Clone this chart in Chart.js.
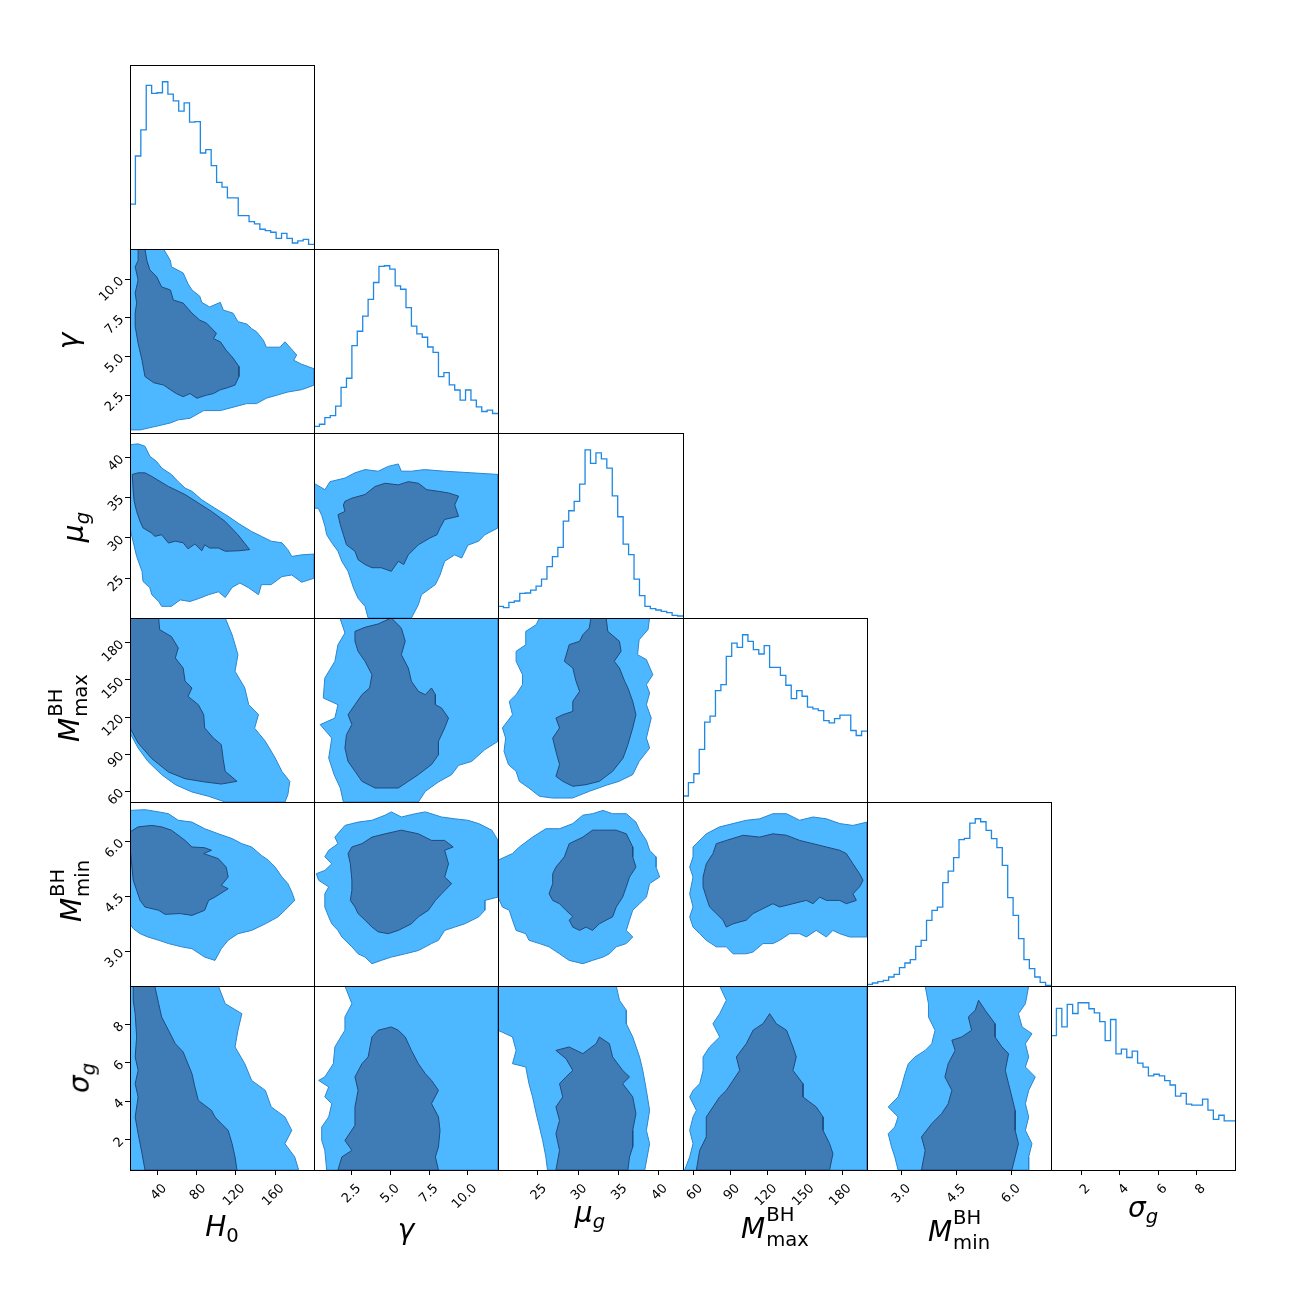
<!DOCTYPE html>
<html>
<head>
<meta charset="utf-8">
<script src="https://cdn.jsdelivr.net/npm/chart.js@4.4.1/dist/chart.umd.min.js"></script>
<style>
  body { margin: 0; background: #fff; }
  #wrap { position: relative; width: 1300px; height: 1300px; overflow: hidden; }
  #wrap canvas { position: absolute; }
  .lab { position: absolute; font-family: 'DejaVu Sans', sans-serif; font-size: 28px; line-height: 1; white-space: nowrap; transform: translate(-50%, -50%); color: #000; }
  .lab.rot { transform: translate(-50%, -50%) rotate(-90deg); }
  .lab sub { font-size: 0.7em; vertical-align: -0.3em; }
  .ss { display: inline-flex; flex-direction: column; font-size: 0.7em; line-height: 1.3; vertical-align: 17px; margin-left: 1px; }
</style>
</head>
<body>
<div id="wrap"></div>
<script>
// 1. DATOS: rangos, ticks, histogramas
const paramRanges = [[11.7, 199.7], [0.05, 11.95], [20.05, 43.05], [51.4, 200], [2.05, 7.08], [0.43, 10.0]];
const tickLabels = [
  ['40', '80', '120', '160'],
  ['2.5', '5.0', '7.5', '10.0'],
  ['25', '30', '35', '40'],
  ['60', '90', '120', '150', '180'],
  ['3.0', '4.5', '6.0'],
  ['2', '4', '6', '8']
];

const histH0 = [134, 278, 356, 489, 465, 467, 500, 463, 443, 412, 437, 379, 381, 287, 297, 249, 199, 185, 153, 153, 100, 100, 82, 75, 59, 55, 50, 32, 47, 32, 18, 24, 29, 14];
const histGamma = [20, 26, 46, 52, 80, 136, 163, 260, 303, 348, 398, 448, 496, 498, 488, 438, 428, 373, 318, 295, 285, 256, 240, 168, 180, 143, 128, 98, 128, 98, 78, 64, 68, 58];
const histMu = [35, 31, 47, 51, 74, 75, 84, 96, 117, 154, 184, 212, 291, 322, 350, 402, 505, 464, 496, 478, 450, 367, 304, 222, 190, 117, 67, 35, 28, 24, 20, 16, 8, 6];
const histMmax = [18, 58, 85, 158, 240, 258, 335, 353, 438, 478, 465, 503, 483, 458, 445, 470, 405, 405, 381, 351, 311, 335, 318, 285, 280, 275, 245, 238, 251, 261, 261, 215, 200, 213];
const histMmin = [5, 9, 13, 17, 27, 35, 55, 69, 79, 119, 137, 197, 227, 237, 310, 345, 385, 439, 443, 489, 502, 493, 467, 442, 415, 362, 265, 212, 142, 79, 52, 27, 11, 2];
const histSigma = [400, 481, 426, 493, 466, 498, 498, 480, 468, 442, 385, 448, 346, 360, 335, 354, 318, 306, 280, 285, 280, 266, 253, 220, 228, 196, 193, 193, 211, 178, 151, 163, 146, 146];
const hists = [histH0, histGamma, histMu, histMmax, histMmin, histSigma];

// 2. CONTORNOS (vértices en unidades de los parámetros)
const h0GammaOuter = [[11.7,11.95],[46,11.95],[53,11.2],[54,10.8],[66,10.4],[71,9.7],[75,9.3],[83,8.9],[85,8.5],[93,8.2],[104,8.5],[107,8.0],[117,7.8],[122,7.25],[131,7.1],[136,6.8],[141,6.6],[148,6.05],[151,5.6],[165,5.6],[170,5.95],[175,5.6],[182,5.1],[179,4.75],[187,4.5],[200,4.2],[200,3.15],[187,2.85],[173,2.7],[162,2.5],[151,2.3],[141,1.95],[131,1.95],[119,1.75],[104,1.5],[87,1.5],[73,1.0],[61,0.9],[53,0.7],[36,0.45],[22,0.25],[11.7,0.25]];
const h0GammaInner = [[20,11.95],[27,11.95],[29,11.2],[32,10.6],[39,10.15],[44,9.5],[53,9.3],[56,8.65],[66,8.45],[75,7.8],[83,7.35],[90,7.15],[100,6.5],[97,6.15],[104,5.95],[110,5.4],[117,4.9],[123,4.35],[123,3.7],[119,3.15],[110,2.95],[104,2.85],[97,2.6],[90,2.5],[80,2.3],[73,2.6],[66,2.4],[59,2.6],[53,2.85],[46,3.15],[36,3.3],[27,3.7],[24,4.75],[20,5.85],[17,6.95],[17,7.8],[18.5,8.45],[17,9.1],[20,9.95],[17,10.8],[20,11.2]];

const h0MuOuter = [[11.7,41.6],[20,41.7],[27,41.4],[32,40.15],[39,39.5],[44,38.7],[54,37.9],[61,37.0],[68,36.2],[75,35.8],[85,34.75],[98.5,33.7],[112,32.7],[122,31.85],[136,30.8],[146,30.2],[156,29.6],[167,29.4],[173,28.55],[177,27.7],[187,27.9],[200,28.0],[200,25.0],[187,24.5],[177,25.4],[167,25.2],[156,24.2],[146,24.2],[143,22.95],[133,23.8],[124,24.4],[116,23.85],[109,22.6],[102,23.3],[92,22.95],[81.5,22.45],[73,22.1],[63,22.3],[54,21.5],[44,21.5],[41,22.1],[34,22.95],[32,23.8],[25,24.6],[24,25.85],[18.5,27.7],[14,30.0],[11.7,31.2]];
const h0MuInner = [[14,37.9],[20,38.1],[27,38.1],[34,37.65],[51,36.4],[68,35.4],[81.5,34.35],[95,33.3],[109,32.05],[122,30.4],[134,28.55],[122,28.4],[109,28.35],[102,28.75],[93,28.75],[88,29.15],[85,28.4],[78,29.25],[71,28.65],[66,29.4],[58,29.6],[51,29.37],[44,30.4],[37,30.2],[34,30.6],[25,31.25],[22,32.05],[18.5,33.3],[16,34.55],[15,35.8]];

const gammaMuOuter = [[0.05,36.8],[0.76,36.0],[1.08,37.0],[2.06,37.45],[2.7,38.1],[3.35,38.5],[4.2,38.3],[4.85,38.9],[5.5,39.2],[5.7,38.3],[6.35,38.3],[7.2,38.5],[8.5,38.3],[10.25,38.1],[11.95,37.9],[11.95,31.25],[11.1,30.4],[10.7,29.6],[10.0,29.1],[9.6,27.5],[9.15,27.9],[8.5,27.1],[8.2,25.4],[7.9,24.2],[7.0,22.95],[6.8,21.7],[6.35,20.05],[3.55,20.05],[3.35,21.5],[2.9,22.5],[2.6,23.8],[2.25,25.85],[1.85,27.1],[1.6,28.35],[1.2,29.4],[0.87,30.4],[0.76,31.45],[0.55,32.8],[0.33,33.7],[0.05,33.7]];
const gammaMuInner = [[2.05,34.55],[2.5,34.95],[3.35,35.4],[4.0,36.4],[4.65,36.8],[5.5,36.6],[6.15,37.0],[6.8,36.8],[7.35,36.0],[8.1,35.8],[8.75,35.6],[9.4,35.2],[9.15,34.1],[9.4,32.7],[8.5,32.3],[8.2,31.25],[8.0,30.4],[7.55,30.0],[6.8,29.15],[6.15,27.9],[5.85,26.7],[5.5,27.1],[5.05,25.85],[4.4,26.3],[3.8,26.3],[3.35,26.7],[2.9,27.3],[2.7,28.35],[2.15,29.15],[1.95,30.4],[1.75,31.65],[1.6,32.9],[2.05,33.3],[1.95,34.1]];

const h0MmaxOuter = [[11.7,200],[109,200],[116,186.5],[122,170.4],[119,157],[129,143.5],[133,130],[143,122],[139,111],[150,100.4],[160,87],[167,76],[175,68],[173,57.3],[170,51.4],[109,51.4],[92,56],[75,59.5],[58,65.4],[44,73.5],[30,84.2],[20,95],[11.7,107.1]];
const h0MmaxInner = [[11.7,200],[41,200],[42,190.6],[54,185],[61,175.8],[58,167.7],[66,159.6],[68,149],[75,143.5],[71,136.7],[81.5,130],[87,122],[88,111.2],[97,103],[105,97.7],[107,85.6],[109,76.2],[121,68.1],[105,65.9],[88,67.6],[68,70.2],[51,75.6],[34,86.4],[20,99],[11.7,111.2]];

const gammaMmaxOuter = [[1.73,200],[11.95,200],[11.95,100.4],[11.1,93.7],[10.25,84.2],[9.4,81],[8.95,73.5],[8.1,67.6],[7.25,60],[6.8,51.4],[1.95,51.4],[1.75,62.7],[1.35,73.5],[1.0,86.9],[1.2,103],[0.45,113.9],[1.4,119.2],[1.6,130],[0.65,135.4],[0.75,151.5],[1.4,165],[1.6,178.4],[2.05,187.9]];
const gammaMmaxInner = [[2.7,189.2],[3.35,192.5],[4.2,195.2],[5.05,200],[5.7,191.9],[5.95,181.2],[5.7,170.4],[6.15,159.6],[6.35,148.9],[6.8,140.8],[7.25,138.1],[7.65,143.5],[7.9,138.1],[7.9,130],[8.3,127.3],[8.75,119.2],[8.5,111.2],[8.1,100.4],[8.1,89.6],[7.65,81.6],[6.8,73.5],[6.15,68.1],[5.5,62.7],[4.0,62.7],[3.15,68.1],[2.7,76.2],[2.25,84.2],[2.05,95],[2.15,105.8],[2.5,113.9],[2.25,121.9],[2.7,130],[3.15,138.1],[3.65,143.5],[3.8,154.2],[3.35,165],[2.9,173.1],[2.7,181.2]];

const muMmaxOuter = [[25.2,200],[38.9,200],[38.7,190.6],[37.6,182.5],[37.4,170.4],[38.5,166.4],[39.3,154.2],[38.5,146.2],[38.9,139.4],[38.5,130],[39.1,119.2],[38.5,103],[38.9,95],[37.6,84.2],[36.8,73.5],[35.1,68.1],[33.5,64.9],[31.4,60],[29.3,54.6],[26.8,54.6],[25.2,56],[23.9,62.7],[22.7,68.1],[22.3,76.2],[21.35,81.6],[20.8,92.3],[21.0,103],[20.6,111.2],[21.85,121.9],[21.45,132.7],[22.3,138.1],[23.1,146.2],[23.1,154.2],[22.3,165],[22.3,173.1],[23.5,178.4],[23.5,189.2],[24.8,194.6]];
const muMmaxInner = [[31.6,200],[33.5,200],[33.7,189.2],[35.15,181.2],[35.35,173.1],[34.5,165],[35.15,159.6],[35.8,148.9],[36.2,143.5],[36.8,132.7],[37.2,121.9],[36.8,111.2],[36.2,97.7],[35.6,86.9],[34.3,76.2],[32.65,68.1],[31.0,65.4],[29.35,64.1],[28.1,68.1],[27.25,72.1],[27.7,81.6],[27.25,92.3],[26.85,103],[27.7,111.2],[27.25,119.2],[28.1,121.9],[29.35,124.6],[29.35,132.7],[30.2,140.8],[29.75,148.9],[29.35,159.6],[28.3,165],[28.9,178.4],[30.2,181.2],[30.6,186.5],[31.4,191.9]];

const h0MminOuter = [[11.7,6.85],[27,6.87],[41,6.81],[51,6.76],[61,6.58],[75,6.53],[88,6.35],[102,6.21],[116,6.08],[126,5.94],[136,5.85],[146,5.62],[153,5.49],[160,5.3],[167,5.03],[173,4.85],[177,4.62],[180,4.39],[170,4.12],[163,3.94],[150,3.75],[136,3.57],[122,3.48],[112,3.3],[105,3.07],[98.5,2.75],[88,2.84],[75,3.07],[64.5,3.12],[51,3.21],[41,3.3],[30,3.39],[22,3.48],[15,3.62],[11.7,3.75]];
const h0MminInner = [[11.7,6.26],[20,6.4],[34,6.44],[44,6.4],[54,6.31],[68,6.03],[75,5.85],[88,5.83],[95,5.76],[87,5.67],[102,5.53],[110,5.3],[112,5.03],[105,4.8],[112,4.71],[98.5,4.48],[92,4.39],[88,4.12],[75,3.98],[63,4.03],[47.5,4.01],[41,4.12],[27,4.21],[22,4.39],[18.5,4.67],[15,4.94],[13.4,5.39],[11.7,5.85]];

const gammaMminOuter = [[1.4,6.12],[2.05,6.44],[2.9,6.53],[3.8,6.58],[4.65,6.72],[5.05,6.81],[5.7,6.67],[6.6,6.76],[7.25,6.81],[8.3,6.67],[9.15,6.62],[10.0,6.58],[10.7,6.49],[11.55,6.31],[11.95,6.03],[11.95,4.48],[11.1,4.39],[11.1,4.12],[10.7,3.94],[9.8,3.75],[9.15,3.66],[8.5,3.57],[8.1,3.3],[7.65,3.21],[6.8,3.02],[5.95,2.93],[5.05,2.84],[4.4,2.75],[3.8,2.66],[3.35,2.84],[2.9,2.93],[2.5,3.12],[1.85,3.39],[1.6,3.57],[1.2,3.75],[1.0,3.94],[0.75,4.21],[0.75,4.57],[1.0,4.76],[0.35,4.94],[0.2,5.12],[0.75,5.21],[1.2,5.39],[0.75,5.58],[1.0,5.76],[1.6,5.94]];
const gammaMminInner = [[2.5,5.85],[3.15,5.94],[3.8,6.12],[4.65,6.21],[5.7,6.31],[6.8,6.21],[7.65,6.03],[8.5,6.03],[9.05,5.85],[8.5,5.76],[8.75,5.39],[8.5,5.03],[8.95,4.85],[8.3,4.57],[7.9,4.39],[7.45,4.12],[6.8,3.94],[6.35,3.75],[5.5,3.57],[4.85,3.48],[4.2,3.53],[3.8,3.66],[3.35,3.85],[2.9,4.03],[2.7,4.21],[2.4,4.39],[2.5,4.67],[2.5,4.94],[2.4,5.39],[2.25,5.67]];

const muMminOuter = [[20.05,5.49],[21.85,5.67],[22.7,5.85],[24.35,6.12],[26.0,6.35],[27.7,6.35],[29.35,6.49],[30.6,6.72],[31.8,6.76],[33.1,6.85],[34.3,6.76],[36.0,6.76],[37.2,6.53],[37.65,6.31],[38.5,6.03],[38.9,5.76],[39.7,5.58],[39.7,5.3],[40.15,5.03],[38.9,4.85],[38.5,4.48],[37.65,4.3],[36.8,4.12],[36.4,3.85],[36.0,3.57],[36.8,3.39],[36.0,3.21],[34.75,3.12],[33.9,2.93],[33.1,2.84],[31.8,2.75],[30.6,2.66],[28.9,2.75],[27.7,2.93],[26.4,3.12],[25.2,3.21],[23.9,3.3],[23.5,3.48],[22.3,3.57],[21.85,3.85],[21.45,4.12],[20.6,4.21],[20.05,4.48]];
const muMminInner = [[26.85,4.85],[26.85,5.12],[27.25,5.3],[28.3,5.58],[28.9,5.94],[30.6,6.12],[31.8,6.31],[34.75,6.31],[36.0,6.21],[36.8,5.85],[36.8,5.58],[37.2,5.3],[36.4,5.03],[36.0,4.76],[35.55,4.48],[34.75,4.21],[34.3,3.94],[33.5,3.85],[32.65,3.75],[31.8,3.57],[31.0,3.66],[30.2,3.57],[29.35,3.66],[28.9,3.85],[29.35,3.95],[28.5,4.12],[27.7,4.3],[26.85,4.39],[26.4,4.57]];

const mmaxMminOuter = [[59.5,5.85],[70.2,6.21],[81,6.4],[91.8,6.49],[102.5,6.58],[113.3,6.62],[124,6.76],[135,6.76],[145.6,6.58],[156.4,6.67],[167.2,6.62],[178,6.49],[188.7,6.44],[200,6.53],[200,3.39],[186,3.39],[178,3.48],[172.5,3.57],[167.2,3.39],[159,3.57],[151,3.39],[145.6,3.48],[137.5,3.48],[129.5,3.3],[124,3.21],[116,3.21],[108,2.98],[102.5,2.93],[91.8,2.93],[86.4,3.12],[78.3,3.12],[70.2,3.3],[64.9,3.48],[59.5,3.66],[56.8,3.94],[59.5,4.21],[56.8,4.57],[59.5,5.03],[56.8,5.3],[59.5,5.58]];
const mmaxMminInner = [[67.6,5.03],[70.2,5.39],[75.6,5.67],[78.3,5.94],[86.4,6.03],[100,6.17],[113.3,6.12],[124,6.21],[135,6.17],[145.6,6.03],[156.4,5.94],[167.2,5.85],[178,5.76],[183.3,5.67],[188.7,5.39],[194,5.12],[196.8,4.94],[194,4.76],[188.7,4.57],[191.4,4.39],[183.3,4.3],[178,4.39],[167.2,4.39],[161.8,4.48],[156.4,4.3],[151,4.39],[140.2,4.3],[129.5,4.21],[124,4.3],[113.3,4.12],[108,4.03],[102.5,3.85],[91.8,3.75],[86.4,3.66],[83.7,3.85],[78.3,4.03],[72.9,4.21],[70.2,4.48],[67.6,4.76]];

const h0SigmaOuter = [[11.7,10.0],[102,10.0],[109,9.08],[126,8.56],[122,7.7],[119,6.83],[129,5.96],[136,5.09],[150,4.57],[156,3.71],[170,3.19],[177,2.49],[170,1.8],[180,1.11],[184,0.43],[11.7,0.43]];
const h0SigmaInner = [[15,10.0],[37,10.0],[41,9.08],[44,8.39],[51,7.7],[58,7.0],[66,6.57],[75,5.44],[78,4.75],[81.5,4.05],[95,3.53],[98.5,3.19],[105,2.84],[112,2.49],[116,1.8],[119,1.11],[121,0.43],[27,0.43],[24,1.28],[20,2.32],[17,3.19],[20,4.23],[17,4.92],[20,5.61],[17,6.31],[18.5,7.35],[17,8.56],[15,9.26]];

const gammaSigmaOuter = [[2.05,10.0],[11.95,10.0],[11.95,0.43],[0.87,0.43],[0.75,1.45],[0.55,1.97],[0.55,2.67],[1.0,3.19],[1.2,3.88],[0.75,4.23],[1.0,4.75],[0.35,5.09],[0.75,5.27],[1.3,5.96],[1.4,6.83],[2.05,7.7],[2.05,8.39],[2.5,9.08]];
const gammaSigmaInner = [[1.6,0.43],[1.85,1.11],[2.5,1.45],[2.05,1.97],[2.7,2.75],[2.7,3.71],[2.9,4.57],[2.7,5.27],[3.15,5.96],[3.55,6.31],[3.8,7.35],[4.2,7.7],[5.05,7.87],[5.5,7.7],[5.95,7.35],[6.35,6.65],[6.8,5.96],[7.25,5.44],[7.65,5.09],[8.1,4.57],[7.65,3.88],[8.1,3.19],[8.2,2.49],[8.1,1.63],[7.9,1.11],[8.1,0.43]];

const muSigmaOuter = [[20.05,10.0],[34.75,10.0],[35.15,9.26],[36.0,8.74],[36.0,8.04],[36.8,7.35],[37.65,6.31],[38.05,5.61],[38.5,4.57],[38.9,3.53],[38.5,2.49],[38.9,1.8],[38.3,0.43],[26.2,0.43],[26.0,1.11],[25.6,1.97],[25.2,2.67],[24.8,3.36],[24.35,4.23],[23.9,4.92],[23.5,5.79],[21.85,5.96],[22.3,6.65],[21.85,7.35],[20.05,7.7]];
const muSigmaInner = [[27.25,0.43],[27.7,1.45],[27.25,2.32],[27.7,3.01],[27.25,3.71],[28.1,4.23],[27.7,4.92],[28.5,5.27],[29.35,5.61],[28.5,6.22],[27.25,6.65],[28.9,6.83],[30.6,6.48],[32.25,7.0],[32.65,7.35],[33.9,7.0],[34.3,6.31],[35.55,5.61],[36.4,5.27],[35.55,4.92],[36.8,4.23],[37.2,3.36],[36.8,2.49],[36.8,1.63],[36.4,1.11],[36.2,0.43]];

const mmaxSigmaOuter = [[81,10.0],[200,10.0],[200,0.43],[52.7,0.43],[56.8,1.11],[59.5,1.8],[56.8,2.49],[59.5,3.19],[62.2,3.53],[56.8,4.23],[59.5,4.57],[64.9,4.92],[67.6,5.61],[67.6,6.31],[72.9,6.83],[81,7.35],[75.6,8.04],[81,8.56],[86.4,9.26]];
const mmaxSigmaInner = [[62.2,0.43],[64.9,1.45],[70.2,2.15],[70.2,3.19],[75.6,3.71],[81,4.23],[86.4,4.57],[91.8,5.09],[97.2,5.61],[94.5,6.31],[102.5,7.0],[108,7.7],[116,8.04],[121.4,8.56],[126.8,8.04],[135,7.7],[140.2,6.83],[142.9,6.31],[140.2,5.61],[148.3,4.92],[148.3,4.23],[159,3.71],[164.5,3.19],[164.5,2.49],[169.8,1.8],[172.5,1.28],[169.8,0.43]];

const mminSigmaOuter = [[3.64,10.0],[6.47,10.0],[6.38,9.08],[6.19,8.56],[6.29,7.87],[6.56,7.52],[6.38,7.0],[6.47,6.31],[6.38,5.79],[6.65,5.27],[6.47,4.57],[6.38,3.88],[6.47,3.19],[6.38,2.49],[6.56,1.8],[6.47,1.11],[6.47,0.43],[2.9,0.43],[2.81,1.11],[2.72,1.63],[2.63,2.32],[2.81,2.67],[2.9,3.19],[2.63,3.71],[2.9,4.23],[2.99,4.75],[3.09,5.44],[3.18,5.96],[3.36,6.31],[3.64,6.65],[3.82,7.0],[3.91,7.7],[3.73,8.39],[3.73,9.08]];
const mminSigmaInner = [[3.54,0.43],[3.64,1.45],[3.54,2.15],[3.82,2.84],[4.09,3.36],[4.27,3.88],[4.37,4.57],[4.18,5.27],[4.27,5.96],[4.46,6.65],[4.37,7.18],[4.64,7.35],[4.91,7.7],[4.82,8.39],[5.01,8.74],[5.1,9.26],[5.28,8.74],[5.55,8.04],[5.55,7.35],[5.74,6.83],[5.92,6.48],[5.83,5.61],[5.92,4.92],[6.01,4.23],[6.1,3.53],[6.1,2.49],[6.19,1.8],[6.1,1.11],[6.01,0.43]];

const contours = {
  '10': [h0GammaOuter, h0GammaInner],
  '20': [h0MuOuter, h0MuInner], '21': [gammaMuOuter, gammaMuInner],
  '30': [h0MmaxOuter, h0MmaxInner], '31': [gammaMmaxOuter, gammaMmaxInner], '32': [muMmaxOuter, muMmaxInner],
  '40': [h0MminOuter, h0MminInner], '41': [gammaMminOuter, gammaMminInner], '42': [muMminOuter, muMminInner], '43': [mmaxMminOuter, mmaxMminInner],
  '50': [h0SigmaOuter, h0SigmaInner], '51': [gammaSigmaOuter, gammaSigmaInner], '52': [muSigmaOuter, muSigmaInner], '53': [mmaxSigmaOuter, mmaxSigmaInner], '54': [mminSigmaOuter, mminSigmaInner]
};

const axisLabels = [
  '<i>H</i><sub>0</sub>',
  '<i>γ</i>',
  '<i>μ</i><sub><i>g</i></sub>',
  '<i>M</i><span class="ss"><span>BH</span><span>max</span></span>',
  '<i>M</i><span class="ss"><span>BH</span><span>min</span></span>',
  '<i>σ</i><sub><i>g</i></sub>'
];

// 3. LAYOUT
const edgesX = [130, 314, 498, 683, 867, 1051, 1235];
const edgesY = [65, 249, 433, 618, 802, 986, 1170];
const xLabelPos = [[222, 1229], [406, 1230], [590, 1215], [775, 1227], [959, 1230], [1143, 1210]];
const yLabelPos = [null, [69, 341], [76, 527], [68, 708], [70, 891], [82, 1078]];
const AXIS = 62;

Chart.defaults.font.family = "'DejaVu Sans', sans-serif";

const framePlugin = {
  id: 'frame',
  afterDraw(chart) {
    const { ctx, chartArea: a } = chart;
    ctx.save();
    ctx.strokeStyle = '#000';
    ctx.lineWidth = 1;
    ctx.strokeRect(Math.round(a.left) + 0.5, Math.round(a.top) + 0.5, Math.round(a.width), Math.round(a.height));
    ctx.restore();
  }
};

function axisOpts(i, pos, show) {
  const [lo, hi] = paramRanges[i];
  const labels = tickLabels[i];
  return {
    type: 'linear', min: lo, max: hi, display: show, position: pos,
    afterBuildTicks: ax => { ax.ticks = labels.map(t => ({ value: Number(t) })); },
    afterFit: ax => {
      if (!show) return;
      if (pos === 'left') ax.width = AXIS; else ax.height = AXIS;
    },
    ticks: {
      minRotation: 45, maxRotation: 45, autoSkip: false, color: '#000',
      padding: pos === 'left' ? 3 : 6, labelOffset: pos === 'left' ? 0 : 7,
      font: { size: 13 }, callback: (v, k) => labels[k]
    },
    grid: { drawOnChartArea: false, drawTicks: true, tickLength: 5, tickColor: '#000', color: '#000' },
    border: { display: false }
  };
}

const wrap = document.getElementById('wrap');

function makePanel(r, c) {
  const m = { l: c === 0 ? 130 : 20, r: 20, t: 20, b: r === 5 ? 130 : 20 };
  const x0 = edgesX[c], x1 = edgesX[c + 1], y0 = edgesY[r], y1 = edgesY[r + 1];
  const cv = document.createElement('canvas');
  cv.width = x1 - x0 + m.l + m.r;
  cv.height = y1 - y0 + m.t + m.b;
  cv.style.left = (x0 - m.l) + 'px';
  cv.style.top = (y0 - m.t) + 'px';
  cv.style.width = cv.width + 'px';
  cv.style.height = cv.height + 'px';
  wrap.appendChild(cv);

  const showX = r === 5;
  const showY = c === 0 && r > 0;
  let datasets, yScale;

  if (r === c) {
    const counts = hists[c];
    const [lo, hi] = paramRanges[c];
    const w = (hi - lo) / counts.length;
    const pts = counts.map((v, k) => ({ x: lo + k * w, y: v }));
    pts.push({ x: hi, y: counts[counts.length - 1] });
    datasets = [{ data: pts, showLine: true, borderColor: '#1e88e5', borderWidth: 1.3, stepped: true, pointRadius: 0, fill: false }];
    yScale = { type: 'linear', display: false, min: 0, max: Math.max(...counts) * 1.1 };
  } else {
    const [outer, inner] = contours[`${r}${c}`];
    const toPts = poly => poly.concat([poly[0]]).map(p => ({ x: p[0], y: p[1] }));
    datasets = [
      { data: toPts(inner), showLine: true, fill: 'shape', backgroundColor: '#3f7bb5', borderColor: '#1f4b7c', borderWidth: 1, pointRadius: 0, tension: 0 },
      { data: toPts(outer), showLine: true, fill: 'shape', backgroundColor: '#4db8ff', borderColor: '#2a86d0', borderWidth: 1, pointRadius: 0, tension: 0 }
    ];
    yScale = axisOpts(r, 'left', showY);
  }

  new Chart(cv, {
    type: 'scatter',
    data: { datasets },
    options: {
      responsive: false, animation: false, devicePixelRatio: 1, events: [],
      layout: { padding: { left: showY ? m.l - AXIS : m.l, right: m.r, top: m.t, bottom: showX ? m.b - AXIS : m.b } },
      plugins: { legend: { display: false }, tooltip: { enabled: false } },
      scales: { x: axisOpts(c, 'bottom', showX), y: yScale }
    },
    plugins: [framePlugin]
  });
}

for (let r = 0; r < 6; r++) for (let c = 0; c <= r; c++) makePanel(r, c);

// 4. ETIQUETAS DE EJES
axisLabels.forEach((html, i) => {
  const d = document.createElement('div');
  d.className = 'lab';
  d.innerHTML = html;
  d.style.left = xLabelPos[i][0] + 'px';
  d.style.top = xLabelPos[i][1] + 'px';
  wrap.appendChild(d);
  if (yLabelPos[i]) {
    const e = document.createElement('div');
    e.className = 'lab rot';
    e.innerHTML = html;
    e.style.left = yLabelPos[i][0] + 'px';
    e.style.top = yLabelPos[i][1] + 'px';
    wrap.appendChild(e);
  }
});
</script>
</body>
</html>
